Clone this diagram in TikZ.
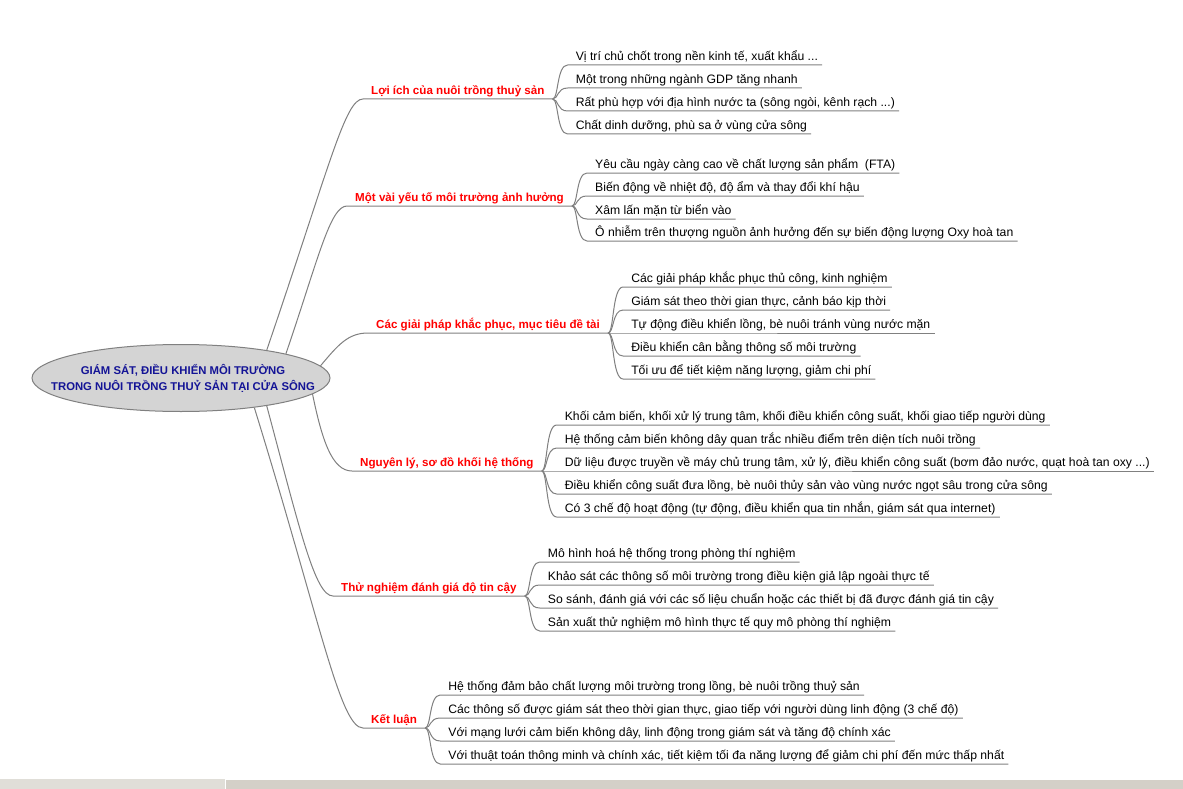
\documentclass[tikz,border=0pt]{standalone}
\usepackage{fontspec}
\setmainfont{Liberation Sans}
\usetikzlibrary{shapes.geometric,calc}
\definecolor{linegray}{RGB}{128,128,128}
\definecolor{ellfill}{RGB}{212,212,212}
\definecolor{navy}{RGB}{20,20,150}
\definecolor{brred}{RGB}{255,0,0}
\definecolor{barleft}{RGB}{224,222,216}
\definecolor{barright}{RGB}{212,208,200}
\newcommand{\leaffont}{\fontsize{12.2}{14}\selectfont}
\newcommand{\branchfont}{\fontsize{11.6}{14}\selectfont\bfseries}
\newcommand{\mmleaf}[4]{%
  \node[leaf, xshift=19pt] (#1) at (#2.south east |- 0,#3) {#4};
  \draw[conn] (#2.south east) .. controls +(6,0) and +(-11,0) .. ([xshift=-4pt]#1.south west) -- (#1.south east);
}
\tikzset{
  conn/.style={draw=linegray, line width=1pt},
  leaf/.style={anchor=south west, inner xsep=4pt, inner ysep=4pt, text depth=0pt, font=\leaffont, text=black},
  branch/.style={anchor=south west, inner xsep=8pt, inner ysep=4.5pt, text depth=0pt, font=\branchfont, text=brred},
  central/.style={ellipse, draw=linegray, fill=ellfill, line width=1pt, minimum width=298pt, minimum height=67pt, inner sep=0pt},
  centraltext/.style={align=center, font=\fontsize{11.3}{16}\selectfont\bfseries, text=navy, inner sep=0pt}
}
\begin{document}
\begin{tikzpicture}[x=1pt,y=-1pt]
\fill[white] (0,0) rectangle (1183,789);
\useasboundingbox (0,0) rectangle (1183,789);

% central node
\node[central] (c) at (181,378) {};
\node[centraltext] (ct) at (183,378) {GIÁM SÁT, ĐIỀU KHIỂN MÔI TRƯỜNG\\TRONG NUÔI TRỒNG THUỶ SẢN TẠI CỬA SÔNG};

% branch labels
\node[branch] (b1) at (363,99) {Lợi ích của nuôi trồng thuỷ sản};
\node[branch] (b2) at (347,206) {Một vài yếu tố môi trường ảnh hưởng};
\node[branch] (b3) at (368,333) {Các giải pháp khắc phục, mục tiêu đề tài};
\node[branch] (b4) at (352,471) {Nguyên lý, sơ đồ khối hệ thống};
\node[branch] (b5) at (333,596) {Thử nghiệm đánh giá độ tin cậy};
\node[branch] (b6) at (363,728) {Kết luận};

% main connectors
\draw[conn] (c.18.4) .. controls (330,165) and (345,99) .. (b1.south west) -- (b1.south east);
\draw[conn] (c.13.3) .. controls (318,260) and (330,206) .. (b2.south west) -- (b2.south east);
\draw[conn] (c.5.75) .. controls (338,345) and (348,333) .. (b3.south west) -- (b3.south east);
\draw[conn] (c.-7.2) .. controls (322,440) and (332,471) .. (b4.south west) -- (b4.south east);
\draw[conn] (c.-18.4) .. controls (300,530) and (315,596) .. (b5.south west) -- (b5.south east);
\draw[conn] (c.-22.6) .. controls (320,620) and (340,728) .. (b6.south west) -- (b6.south east);

% leaves of branch 1
\mmleaf{l11}{b1}{65}{Vị trí chủ chốt trong nền kinh tế, xuất khẩu ...}
\mmleaf{l12}{b1}{88}{Một trong những ngành GDP tăng nhanh}
\mmleaf{l13}{b1}{111}{Rất phù hợp với địa hình nước ta (sông ngòi, kênh rạch ...)}
\mmleaf{l14}{b1}{134}{Chất dinh dưỡng, phù sa ở vùng cửa sông}

% leaves of branch 2
\mmleaf{l21}{b2}{173}{Yêu cầu ngày càng cao về chất lượng sản phẩm\ \ (FTA)}
\mmleaf{l22}{b2}{196}{Biến động về nhiệt độ, độ ẩm và thay đổi khí hậu}
\mmleaf{l23}{b2}{219}{Xâm lấn mặn từ biển vào}
\mmleaf{l24}{b2}{241}{Ô nhiễm trên thượng nguồn ảnh hưởng đến sự biến động lượng Oxy hoà tan}

% leaves of branch 3
\mmleaf{l31}{b3}{287}{Các giải pháp khắc phục thủ công, kinh nghiệm}
\mmleaf{l32}{b3}{310}{Giám sát theo thời gian thực, cảnh báo kịp thời}
\mmleaf{l33}{b3}{333}{Tự động điều khiển lồng, bè nuôi tránh vùng nước mặn}
\mmleaf{l34}{b3}{356}{Điều khiển cân bằng thông số môi trường}
\mmleaf{l35}{b3}{379}{Tối ưu để tiết kiệm năng lượng, giảm chi phí}

% leaves of branch 4
\mmleaf{l41}{b4}{425}{Khối cảm biến, khối xử lý trung tâm, khối điều khiển công suất, khối giao tiếp người dùng}
\mmleaf{l42}{b4}{448}{Hệ thống cảm biến không dây quan trắc nhiều điểm trên diện tích nuôi trồng}
\mmleaf{l43}{b4}{471}{Dữ liệu được truyền về máy chủ trung tâm, xử lý, điều khiển công suất (bơm đảo nước, quạt hoà tan oxy ...)}
\mmleaf{l44}{b4}{494}{Điều khiển công suất đưa lồng, bè nuôi thủy sản vào vùng nước ngọt sâu trong cửa sông}
\mmleaf{l45}{b4}{517}{Có 3 chế độ hoạt động (tự động, điều khiển qua tin nhắn, giám sát qua internet)}

% leaves of branch 5
\mmleaf{l51}{b5}{562}{Mô hình hoá hệ thống trong phòng thí nghiệm}
\mmleaf{l52}{b5}{585}{Khảo sát các thông số môi trường trong điều kiện giả lập ngoài thực tế}
\mmleaf{l53}{b5}{608}{So sánh, đánh giá với các số liệu chuẩn hoặc các thiết bị đã được đánh giá tin cậy}
\mmleaf{l54}{b5}{631}{Sản xuất thử nghiệm mô hình thực tế quy mô phòng thí nghiệm}

% leaves of branch 6
\mmleaf{l61}{b6}{695}{Hệ thống đảm bảo chất lượng môi trường trong lồng, bè nuôi trồng thuỷ sản}
\mmleaf{l62}{b6}{718}{Các thông số được giám sát theo thời gian thực, giao tiếp với người dùng linh động (3 chế độ)}
\mmleaf{l63}{b6}{741}{Với mạng lưới cảm biến không dây, linh động trong giám sát và tăng độ chính xác}
\mmleaf{l64}{b6}{764}{Với thuật toán thông minh và chính xác, tiết kiệm tối đa năng lượng để giảm chi phí đến mức thấp nhất}

% bottom bar
\fill[barleft] (0,779) rectangle (225,789);
\fill[barright] (226,779) rectangle (1183,789);
\draw[white, line width=1pt] (226,779.5) -- (1183,779.5);
\end{tikzpicture}
\end{document}
